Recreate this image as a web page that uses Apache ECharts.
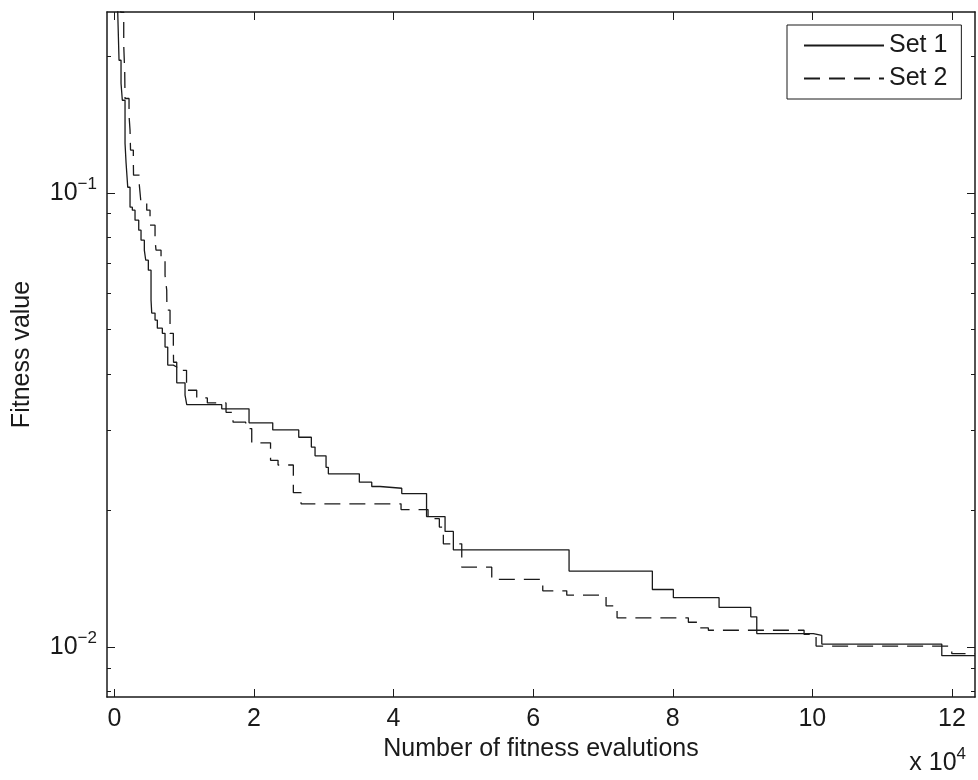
<!DOCTYPE html>
<html>
<head>
<meta charset="utf-8">
<script src="https://cdn.jsdelivr.net/npm/echarts@6/dist/echarts.min.js"></script>
<style>
html,body{margin:0;padding:0;background:#fff;}
#chart{width:978px;height:780px;}
</style>
</head>
<body>
<div id="chart"></div>
<script>
// ---- data ----
const xTickValues = [0, 20000, 40000, 60000, 80000, 100000, 120000];
const yMajorTicks = [0.01, 0.1];
const yMinorTicks = [0.008, 0.009, 0.02, 0.03, 0.04, 0.05, 0.06, 0.07, 0.08, 0.09, 0.2];
const seriesNames = ['Set 1', 'Set 2'];

const set1X = [0, 487, 673, 960, 1146, 1533, 1676, 1920, 2250, 2579, 2965, 3496, 3825, 4298, 4499, 4871, 5258, 5358, 5832, 6161, 6877, 7264, 7651, 8453, 8940, 10129, 10373, 15387, 19298, 22694, 26419, 28224, 28754, 30330, 30660, 35101, 36878, 38067, 41176, 44729, 47380, 48569, 65145, 77079, 80088, 86635, 91177, 92037, 100146, 101350, 118542, 123300];
const set1Y = [0.42, 0.2497, 0.1958, 0.1743, 0.1599, 0.1286, 0.1168, 0.1029, 0.0930, 0.0916, 0.0871, 0.0828, 0.0787, 0.0748, 0.0711, 0.0676, 0.0581, 0.0544, 0.0525, 0.0504, 0.0491, 0.0458, 0.0418, 0.0414, 0.0382, 0.0359, 0.0342, 0.0335, 0.0312, 0.0301, 0.0290, 0.0276, 0.0264, 0.0249, 0.0241, 0.0231, 0.0226, 0.0224, 0.0218, 0.0194, 0.0180, 0.0164, 0.01472, 0.01341, 0.01287, 0.01225, 0.01168, 0.01073, 0.01063, 0.01017, 0.00959, 0.00959];

const set2X = [0, 917, 1347, 1490, 1533, 2106, 2249, 2321, 2722, 2751, 3582, 3825, 4642, 5115, 5832, 5974, 6691, 7264, 7507, 7536, 7980, 8453, 8482, 8940, 10344, 11805, 13324, 16003, 17006, 18826, 19685, 22379, 23453, 25645, 26749, 41075, 44944, 46563, 47136, 49772, 54070, 61377, 64815, 70446, 72022, 82237, 83770, 85102, 98813, 100532, 119974, 123300];
const set2Y = [0.55, 0.2497, 0.2113, 0.1843, 0.1613, 0.1482, 0.1374, 0.1242, 0.1180, 0.1094, 0.1040, 0.0949, 0.0916, 0.0849, 0.0787, 0.0748, 0.0711, 0.0659, 0.0611, 0.0552, 0.0491, 0.0467, 0.0424, 0.0407, 0.0368, 0.0354, 0.0345, 0.0329, 0.0313, 0.0303, 0.0282, 0.0258, 0.0252, 0.0219, 0.0207, 0.0201, 0.0192, 0.0184, 0.0169, 0.01502, 0.01412, 0.01332, 0.01303, 0.01234, 0.01162, 0.01136, 0.01104, 0.01091, 0.01068, 0.01007, 0.00969, 0.00969];

const X_MIN = -1050, X_MAX = 123300;
const Y_MIN = 0.00778, Y_MAX = 0.25;

// ---- chart ----
const FONT = "'Liberation Sans', Arial, Helvetica, sans-serif";
const INK = '#1a1a1a';
const chart = echarts.init(document.getElementById('chart'), null, {renderer: 'canvas'});

function zipXY(xs, ys) { return xs.map((x, i) => [x, ys[i]]); }

const supRich = {
  b: {fontSize: 25, lineHeight: 25, fontFamily: FONT, color: INK, verticalAlign: 'bottom'},
  s: {fontSize: 17, lineHeight: 17, fontFamily: FONT, color: INK, verticalAlign: 'bottom', padding: [0, 0, 13, 0]}
};

function yAxisBase(position, extra) {
  return Object.assign({
    type: 'log', logBase: 10, position: position, min: Y_MIN, max: Y_MAX,
    splitLine: {show: false},
    axisLine: {show: true, onZero: false, lineStyle: {color: INK, width: 1.5}},
    axisLabel: {show: false},
    axisTick: {show: true, inside: true, length: 8, customValues: yMajorTicks, lineStyle: {color: INK, width: 1}}
  }, extra || {});
}

const minorTick = {show: true, inside: true, length: 4, customValues: yMinorTicks, lineStyle: {color: INK, width: 1}};

const option = {
  backgroundColor: '#ffffff',
  animation: false,
  textStyle: {fontFamily: FONT, color: INK},
  grid: {left: 107, top: 12, right: 3, bottom: 83, containLabel: false},
  legend: {
    show: true,
    data: seriesNames,
    orient: 'vertical',
    left: 787, top: 25,
    itemWidth: 80, itemHeight: 25, itemGap: 8,
    padding: [8, 14, 8, 16],
    borderColor: INK, borderWidth: 1,
    backgroundColor: '#fff',
    itemStyle: {opacity: 0},
    textStyle: {fontSize: 25, fontFamily: FONT, color: INK, lineHeight: 25},
    selectedMode: false
  },
  xAxis: [
    {
      type: 'value', position: 'bottom', min: X_MIN, max: X_MAX,
      name: 'Number of fitness evalutions', nameLocation: 'middle', nameGap: 40,
      nameTextStyle: {fontSize: 25, fontFamily: FONT, color: INK},
      splitLine: {show: false},
      axisLine: {show: true, onZero: false, lineStyle: {color: INK, width: 1.5}},
      axisTick: {show: true, inside: true, length: 8, customValues: xTickValues, lineStyle: {color: INK, width: 1}},
      axisLabel: {show: true, customValues: xTickValues, margin: 10, fontSize: 25, fontFamily: FONT, color: INK,
        formatter: v => String(Math.round(v / 10000))}
    },
    {
      type: 'value', position: 'top', min: X_MIN, max: X_MAX,
      splitLine: {show: false},
      axisLine: {show: true, onZero: false, lineStyle: {color: INK, width: 1.5}},
      axisTick: {show: true, inside: true, length: 8, customValues: xTickValues, lineStyle: {color: INK, width: 1}},
      axisLabel: {show: false}
    }
  ],
  yAxis: [
    yAxisBase('left', {
      name: 'Fitness value', nameLocation: 'middle', nameGap: 72,
      nameTextStyle: {fontSize: 25, fontFamily: FONT, color: INK},
      axisLabel: {show: true, customValues: yMajorTicks, margin: 10,
        formatter: v => { const e = Math.round(Math.log10(v)); return '{b|10}{s|' + (e < 0 ? '\u2212' : '') + Math.abs(e) + '}'; },
        rich: supRich}
    }),
    yAxisBase('right'),
    yAxisBase('left', {axisLine: {show: false, onZero: false}, axisTick: minorTick}),
    yAxisBase('right', {axisLine: {show: false, onZero: false}, axisTick: minorTick})
  ],
  series: [
    {
      name: seriesNames[0], type: 'line', xAxisIndex: 0, yAxisIndex: 0,
      step: 'end', symbol: 'none', showSymbol: false, clip: true,
      lineStyle: {color: INK, width: 1.3, type: 'solid'},
      itemStyle: {color: INK},
      data: zipXY(set1X, set1Y), z: 3
    },
    {
      name: seriesNames[1], type: 'line', xAxisIndex: 0, yAxisIndex: 0,
      step: 'end', symbol: 'none', showSymbol: false, clip: true,
      lineStyle: {color: INK, width: 1.3, type: [16, 9]},
      itemStyle: {color: INK},
      data: zipXY(set2X, set2Y), z: 2
    }
  ],
  graphic: [
    {
      type: 'text', right: 12, bottom: 4, z: 10,
      style: {
        text: '{b|x 10}{s|4}',
        rich: supRich,
        fill: INK
      }
    }
  ]
};
chart.setOption(option);
</script>
</body>
</html>
